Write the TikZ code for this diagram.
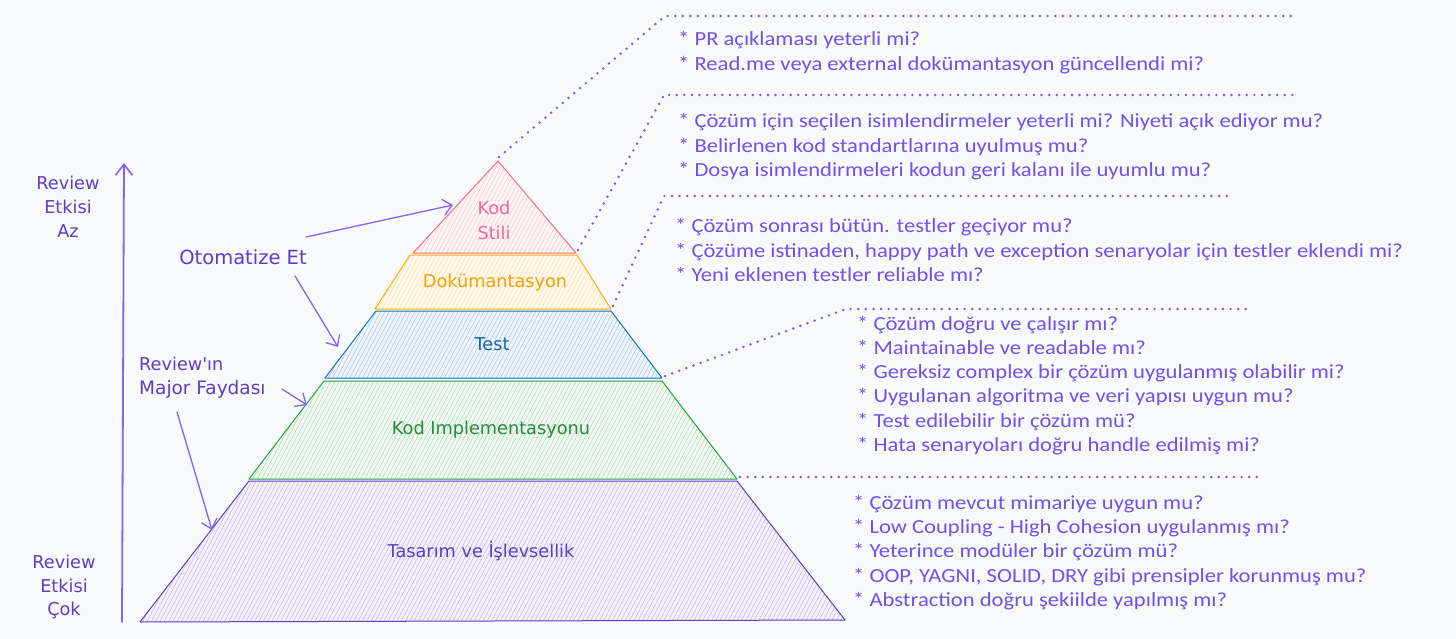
\documentclass[tikz,border=0pt]{standalone}
\usepackage{fontspec}
\usetikzlibrary{arrows.meta,patterns.meta}
\newfontfamily\handfont{DejaVu Sans}
\newfontfamily\notefont[FakeStretch=1.13]{Carlito}
\definecolor{bgc}{HTML}{F8F9FA}
\definecolor{labelc}{HTML}{5F3DC4}
\definecolor{arrowc}{HTML}{8663F0}
\definecolor{notec}{HTML}{7350EA}
\definecolor{dotc}{HTML}{7A55EE}
\definecolor{pinkc}{HTML}{F07080}
\definecolor{pinkt}{HTML}{EE6A95}
\definecolor{yelc}{HTML}{FAB005}
\definecolor{yelt}{HTML}{F2A00C}
\definecolor{bluec}{HTML}{1971C2}
\definecolor{bluet}{HTML}{1864AB}
\definecolor{greenc}{HTML}{2F9E44}
\definecolor{greent}{HTML}{2B8A3E}
\definecolor{purc}{HTML}{5F3DC4}
\definecolor{purt}{HTML}{5F3DC4}
\begin{document}
\begin{tikzpicture}[x=1pt,y=-1pt,
  hand/.style={font=\handfont\fontsize{17.7}{21}\selectfont, inner sep=0pt},
  lab/.style={hand, text=labelc},
  note/.style={font=\notefont\fontsize{20}{24.4}\selectfont, text=notec, inner sep=0pt, anchor=base west},
  arr/.style={draw=arrowc, line width=1.3pt, line cap=round,
    -{Straight Barb[length=9pt,width=16pt,line width=1.3pt]}},
  dotl/.style={draw=dotc, line width=2.7pt, line cap=round, dash pattern=on 0pt off 7.6pt},
  layer/.style={line width=1pt, line join=round},
]
\useasboundingbox (0,0) rectangle (1456,639);
\fill[bgc] (0,0) rectangle (1456,639);

% ---- pyramid corner coordinates
\coordinate (ksA) at (498,161); \coordinate (ksL) at (413,253); \coordinate (ksR) at (576,253);
\coordinate (dkTL) at (410,255); \coordinate (dkTR) at (577,255); \coordinate (dkBR) at (611,309); \coordinate (dkBL) at (375,309);
\coordinate (teTL) at (376,311); \coordinate (teTR) at (611,311); \coordinate (teBR) at (662,378); \coordinate (teBL) at (325,378);
\coordinate (kiTL) at (324,381); \coordinate (kiTR) at (662,381); \coordinate (kiBR) at (737,479); \coordinate (kiBL) at (249,479);
\coordinate (taTL) at (249,481); \coordinate (taTR) at (737,481); \coordinate (taBR) at (845,620); \coordinate (taBL) at (140,622);

% ---- layers
\foreach \shp/\col in {{(taTL)--(taTR)--(taBR)--(taBL)--cycle}/purc,
                      {(kiTL)--(kiTR)--(kiBR)--(kiBL)--cycle}/greenc,
                      {(teTL)--(teTR)--(teBR)--(teBL)--cycle}/bluec,
                      {(dkTL)--(dkTR)--(dkBR)--(dkBL)--cycle}/yelc,
                      {(ksA)--(ksR)--(ksL)--cycle}/pinkc}{
  \fill[\col!7] \shp;
  \path[pattern={Lines[angle=62,distance=3.8pt,line width=0.55pt]}, pattern color=\col!38] \shp;
  \draw[layer, draw=\col] \shp;
}

% ---- layer labels
\node[hand, text=pinkt] (ks1) at (494,208) {Kod};
\node[hand, text=pinkt] (ks2) at (494,233) {Stili};
\node[hand, text=yelt] (dk) at (495,283) {Dokümantasyon};
\node[hand, text=bluet] (te) at (492,344) {Test};
\node[hand, text=greent] (ki) at (491,430) {Kod Implementasyonu};
\node[hand, text=purt] (ta) at (481,551) {Tasarım ve İşlevsellik};

% ---- left side
\node[lab] (az1) at (68,183) {Review};
\node[lab] (az2) at (68,207) {Etkisi};
\node[lab] (az3) at (68,231) {Az};
\node[lab] (cok1) at (64,562) {Review};
\node[lab] (cok2) at (64,586) {Etkisi};
\node[lab] (cok3) at (64,610) {Çok};
\coordinate (axB) at (122,622); \coordinate (axT) at (124,163);
\draw[arr, line width=1.8pt, -{Straight Barb[length=11pt,width=17pt,line width=1.6pt]}] (axB) -- (axT);

\node[lab, font=\handfont\fontsize{19.5}{21}\selectfont] (oto) at (243,257) {Otomatize Et};
\coordinate (oto1) at (306,237); \coordinate (ksP) at (453,205);
\coordinate (oto2) at (295,276); \coordinate (teP) at (338,347);
\draw[arr] (oto1) -- (ksP);
\draw[arr] (oto2) -- (teP);

\node[lab, anchor=west] (maj1) at (139,364) {Review'ın};
\node[lab, anchor=west, font=\handfont\fontsize{18.5}{21}\selectfont] (maj2) at (139,389) {Major Faydası};
\coordinate (maj3) at (282,389); \coordinate (kiP) at (307,405);
\coordinate (maj4) at (177,412); \coordinate (taP) at (212,530);
\draw[arr] (maj3) -- (kiP);
\draw[arr] (maj4) -- (taP);

% ---- dotted leaders
\coordinate (d1a) at (499,157); \coordinate (d1b) at (665,16); \coordinate (d1c) at (1298,16);
\coordinate (d2a) at (578,250); \coordinate (d2b) at (664,95); \coordinate (d2c) at (1294,95);
\coordinate (d3a) at (613,306); \coordinate (d3b) at (664,196); \coordinate (d3c) at (1232,196);
\coordinate (d4a) at (665,376); \coordinate (d4b) at (846,309); \coordinate (d4c) at (1248,309);
\coordinate (d5a) at (740,477); \coordinate (d5c) at (1260,477);
\draw[dotl] (d1a) -- (d1b) -- (d1c);
\draw[dotl] (d2a) -- (d2b) -- (d2c);
\draw[dotl] (d3a) -- (d3b) -- (d3c);
\draw[dotl] (d4a) -- (d4b) -- (d4c);
\draw[dotl] (d5a) -- (d5c);

% ---- notes
\foreach \t [count=\i from 0] in {{* PR açıklaması yeterli mi?},
  {* Read.me veya external dokümantasyon güncellendi mi?}}
  \node[note] (b1-\i) at (678,{46+24.4*\i}) {\t};
\foreach \t [count=\i from 0] in {{* Çözüm için seçilen isimlendirmeler yeterli mi? Niyeti açık ediyor mu?},
  {* Belirlenen kod standartlarına uyulmuş mu?},
  {* Dosya isimlendirmeleri kodun geri kalanı ile uyumlu mu?}}
  \node[note] (b2-\i) at (678,{128+24.4*\i}) {\t};
\foreach \t [count=\i from 0] in {{* Çözüm sonrası bütün. testler geçiyor mu?},
  {* Çözüme istinaden, happy path ve exception senaryolar için testler eklendi mi?},
  {* Yeni eklenen testler reliable mı?}}
  \node[note] (b3-\i) at (675,{233+24.4*\i}) {\t};
\foreach \t [count=\i from 0] in {{* Çözüm doğru ve çalışır mı?},
  {* Maintainable ve readable mı?},
  {* Gereksiz complex bir çözüm uygulanmış olabilir mi?},
  {* Uygulanan algoritma ve veri yapısı uygun mu?},
  {* Test edilebilir bir çözüm mü?},
  {* Hata senaryoları doğru handle edilmiş mi?}}
  \node[note] (b4-\i) at (857,{330+24.3*\i}) {\t};
\foreach \t [count=\i from 0] in {{* Çözüm mevcut mimariye uygun mu?},
  {* Low Coupling - High Cohesion uygulanmış mı?},
  {* Yeterince modüler bir çözüm mü?},
  {* OOP, YAGNI, SOLID, DRY gibi prensipler korunmuş mu?},
  {* Abstraction doğru şekiilde yapılmış mı?}}
  \node[note] (b5-\i) at (853,{509+24.4*\i}) {\t};
\end{tikzpicture}
\end{document}
